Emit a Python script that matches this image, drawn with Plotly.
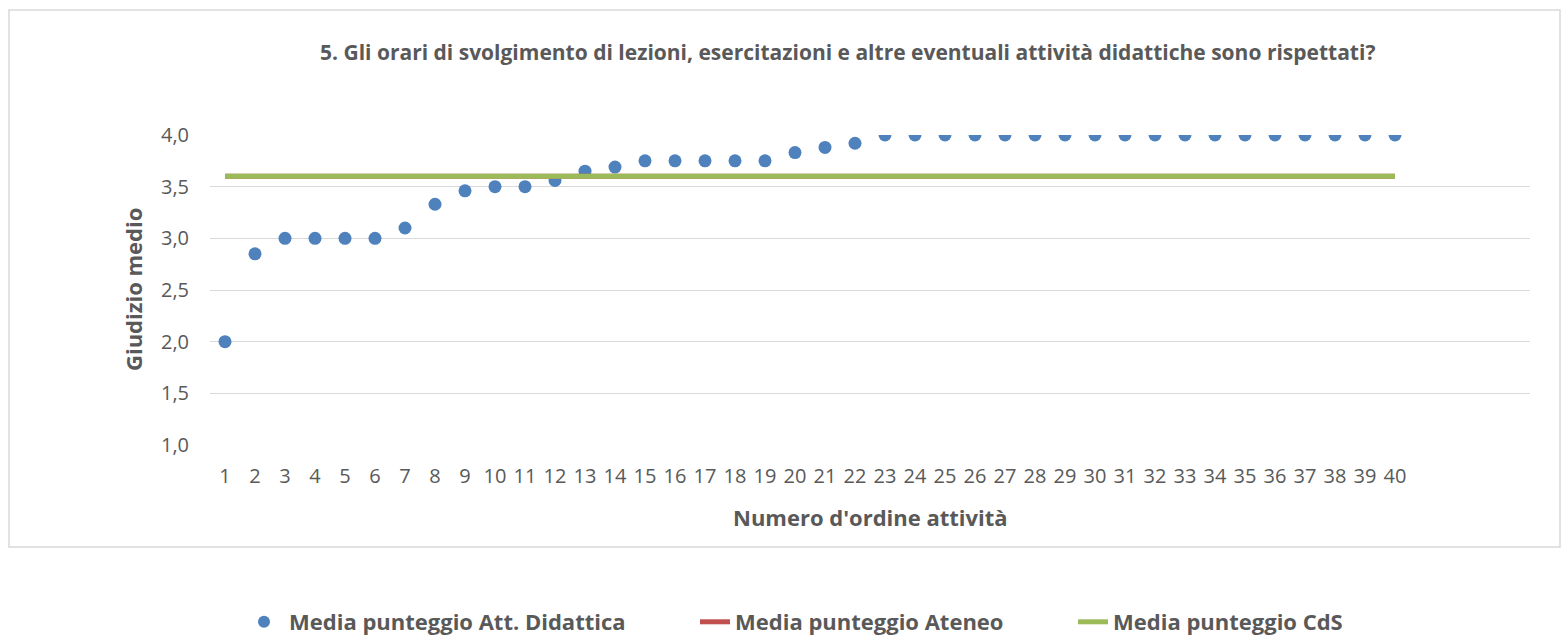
import plotly.graph_objects as go

attivita = list(range(1, 41))
media_att = [2.0, 2.85, 3.0, 3.0, 3.0, 3.0, 3.1, 3.33, 3.46, 3.5,
             3.5, 3.56, 3.65, 3.69, 3.75, 3.75, 3.75, 3.75, 3.75, 3.83,
             3.88, 3.92, 4.0, 4.0, 4.0, 4.0, 4.0, 4.0, 4.0, 4.0,
             4.0, 4.0, 4.0, 4.0, 4.0, 4.0, 4.0, 4.0, 4.0, 4.0]
media_ateneo = [3.6] * 40
media_cds = [3.6] * 40
y_ticks = [1.0, 1.5, 2.0, 2.5, 3.0, 3.5, 4.0]

title_text = "5. Gli orari di svolgimento di lezioni, esercitazioni e altre eventuali attività didattiche sono rispettati?"
font_fam = "Open Sans, Noto Sans, sans-serif"
grey = "#595959"

fig = go.Figure()
fig.add_trace(go.Scatter(x=attivita, y=media_att, mode="markers",
                         marker=dict(color="#4f81bd", size=13),
                         name="Media punteggio Att. Didattica", legend="legend"))
fig.add_trace(go.Scatter(x=attivita, y=media_ateneo, mode="lines",
                         line=dict(color="#c0504d", width=5),
                         name="Media punteggio Ateneo", legend="legend2"))
fig.add_trace(go.Scatter(x=attivita, y=media_cds, mode="lines",
                         line=dict(color="#9bbb59", width=5),
                         name="Media punteggio CdS", legend="legend3"))

W, H = 1564, 638
L, R, T, B = 210, 34, 135, 193
pw, ph = W - L - R, H - T - B

def px(xp):
    return (xp - L) / pw

def py(yp):
    return (H - B - yp) / ph

def leg(xpix, iw=30):
    return dict(orientation="h", xref="container", yref="container",
                x=xpix / W, y=(H - 622) / H, xanchor="left", yanchor="middle",
                font=dict(size=22, color=grey, family=font_fam, weight="bold"),
                itemsizing="constant", itemwidth=iw,
                bgcolor="rgba(0,0,0,0)", borderwidth=0)

fig.update_layout(
    width=W, height=H,
    margin=dict(l=L, r=R, t=T, b=B),
    paper_bgcolor="white", plot_bgcolor="white",
    separators=",.",
    font=dict(family=font_fam, color=grey, size=20),
    showlegend=True,
    legend=leg(239, 40),
    legend2=leg(695),
    legend3=leg(1073),
    annotations=[
        dict(text="<b>" + title_text + "</b>", x=px(847), y=py(52), xref="paper", yref="paper",
             showarrow=False, xanchor="center", yanchor="middle",
             font=dict(size=21, color=grey, family=font_fam)),
        dict(text="<b>Numero d'ordine attività</b>", x=px(870), y=py(517), xref="paper", yref="paper",
             showarrow=False, xanchor="center", yanchor="middle",
             font=dict(size=22, color=grey, family=font_fam)),
        dict(text="<b>Giudizio medio</b>", x=px(133), y=py(290), xref="paper", yref="paper",
             showarrow=False, xanchor="center", yanchor="middle", textangle=-90,
             font=dict(size=22, color=grey, family=font_fam)),
    ],
    shapes=[dict(type="rect", xref="paper", yref="paper",
                 x0=px(9), x1=px(1560), y0=py(547), y1=py(10),
                 line=dict(color="#d9d9d9", width=1.5), fillcolor="rgba(0,0,0,0)", layer="below")],
)
fig.update_xaxes(range=[0.5, 44.5], tickvals=attivita, ticktext=[str(v) for v in attivita],
                 showgrid=False, zeroline=False, showline=False,
                 ticks="", ticklabelstandoff=17, tickfont=dict(size=20, color=grey))
fig.update_yaxes(range=[1.0, 4.0], tickvals=y_ticks, tickformat=".1f",
                 showgrid=True, gridcolor="#d9d9d9", gridwidth=1.3, zeroline=False, showline=False,
                 ticks="", ticklabelstandoff=20, tickfont=dict(size=20, color=grey))

fig.write_html("out.html", config={"displayModeBar": False},
               post_script="document.body.style.margin='0';")
